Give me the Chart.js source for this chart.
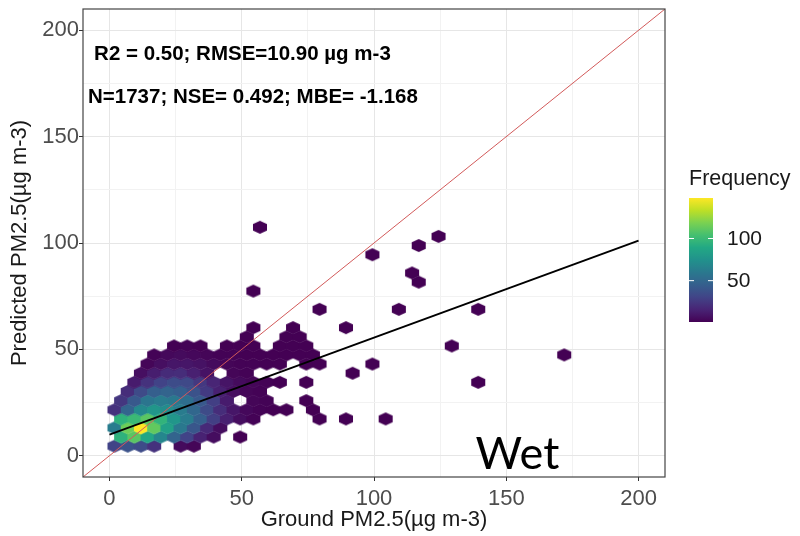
<!DOCTYPE html>
<html>
<head>
<meta charset="utf-8">
<script src="https://cdn.jsdelivr.net/npm/chart.js@4.4.1/dist/chart.umd.min.js"></script>
<style>
  html, body { margin: 0; padding: 0; background: #fff; }
  #wrap { width: 800px; height: 536px; }
</style>
</head>
<body>
<div id="wrap"><canvas id="hexChart" width="800" height="536"></canvas></div>
<script>
// hexbin cells, one entry per row of hexagons: row centre y, cell centre x's, counts
var rowY = [4.5, 8.8, 13.1, 17.3, 21.6, 25.9, 30.2, 34.5, 38.8, 43.1, 47.4, 51.6,
            55.9, 60.2, 68.8, 77.4, 81.6, 85.9, 94.5, 98.8, 103.1, 107.4];
var rowX = [
  [1.9, 6.9, 11.9, 16.9, 26.9, 31.9],
  [4.4, 9.4, 14.4, 19.4, 24.4, 29.4, 34.4, 39.4, 49.4],
  [1.9, 6.9, 11.9, 16.9, 21.9, 26.9, 31.9, 36.9, 41.9],
  [4.4, 9.4, 14.4, 19.4, 24.4, 29.4, 34.4, 39.4, 44.4, 49.4, 54.4, 79.4, 89.4, 104.4],
  [1.9, 6.9, 11.9, 16.9, 21.9, 26.9, 31.9, 36.9, 41.9, 46.9, 51.9, 56.9, 61.9, 66.9, 76.9],
  [4.4, 9.4, 14.4, 19.4, 24.4, 29.4, 34.4, 39.4, 44.4, 54.4, 59.4, 74.4],
  [6.9, 11.9, 16.9, 21.9, 26.9, 31.9, 36.9, 41.9, 46.9, 51.9, 56.9],
  [9.4, 14.4, 19.4, 24.4, 29.4, 34.4, 39.4, 44.4, 49.4, 54.4, 59.4, 64.4, 74.4, 139.4],
  [11.9, 16.9, 21.9, 26.9, 31.9, 36.9, 46.9, 51.9, 91.9],
  [14.4, 19.4, 24.4, 29.4, 34.4, 39.4, 44.4, 49.4, 54.4, 59.4, 64.4, 74.4, 79.4, 99.4],
  [16.9, 21.9, 26.9, 31.9, 36.9, 41.9, 46.9, 51.9, 56.9, 61.9, 66.9, 71.9, 76.9, 171.9],
  [24.4, 29.4, 34.4, 44.4, 49.4, 54.4, 64.4, 69.4, 74.4, 129.4],
  [51.9, 66.9, 71.9],
  [54.4, 69.4, 89.4],
  [79.4, 109.4, 139.4],
  [54.4],
  [116.9],
  [114.4],
  [99.4],
  [116.9],
  [124.4],
  [56.9]
];
var rowN = [
  [30, 38, 34, 22, 5, 3],
  [95, 110, 88, 68, 48, 30, 15, 6, 1],
  [62, 115, 148, 112, 84, 60, 40, 18, 6],
  [95, 100, 110, 96, 78, 62, 45, 28, 14, 6, 2, 1, 1, 1],
  [22, 48, 70, 78, 72, 62, 50, 34, 20, 10, 4, 2, 1, 1, 1],
  [24, 42, 58, 62, 60, 54, 42, 28, 12, 3, 2, 1],
  [20, 34, 45, 48, 45, 38, 26, 14, 7, 3, 2],
  [12, 22, 30, 35, 33, 25, 16, 9, 5, 3, 2, 1, 1, 1],
  [7, 13, 19, 20, 14, 8, 3, 2, 1],
  [3, 7, 10, 10, 8, 5, 3, 2, 2, 1, 1, 1, 1, 1],
  [2, 4, 5, 4, 3, 2, 2, 1, 1, 1, 1, 1, 1, 1],
  [1, 2, 1, 1, 1, 1, 1, 1, 1, 1],
  [1, 1, 1],
  [1, 1, 1],
  [1, 1, 1],
  [1],
  [1],
  [1],
  [1],
  [1],
  [1],
  [1]
];

// 1:1 line and fitted regression line
var oneToOne = [-10, 210];
var fitX = [0, 200];
var fitY = [9.9, 101.1];

var axisTicks = [0, 50, 100, 150, 200];
var legendTicks = [50, 100];
var statsText = ['R2 = 0.50; RMSE=10.90 µg m-3', 'N=1737; NSE= 0.492; MBE= -1.168'];
var panelLabel = 'Wet';

var binW = 5, binH = 4.287;
var nMin = 1, nMax = 148;

var viridis = ['#440154', '#482475', '#414487', '#355f8d', '#2a788e', '#21918c',
               '#22a884', '#44bf70', '#7ad151', '#bddf26', '#fde725'];

function hexToRgb(h) {
  return [parseInt(h.substr(1, 2), 16), parseInt(h.substr(3, 2), 16), parseInt(h.substr(5, 2), 16)];
}
function viridisAt(t) {
  t = Math.max(0, Math.min(1, t));
  var p = t * (viridis.length - 1);
  var i = Math.min(Math.floor(p), viridis.length - 2);
  var f = p - i;
  var a = hexToRgb(viridis[i]), b = hexToRgb(viridis[i + 1]);
  return 'rgb(' + Math.round(a[0] + (b[0] - a[0]) * f) + ',' +
    Math.round(a[1] + (b[1] - a[1]) * f) + ',' + Math.round(a[2] + (b[2] - a[2]) * f) + ')';
}
function fillFor(n) {
  return viridisAt((n - nMin) / (nMax - nMin));
}

var hexPoints = [];
rowY.forEach(function (y, r) {
  rowX[r].forEach(function (x, i) {
    hexPoints.push({ x: x, y: y, n: rowN[r][i] });
  });
});

// pointy-top hexagon image, sized from the axis scales
var hexCache = {};
function hexImage(chart, color) {
  var xs = chart.scales.x, ys = chart.scales.y;
  var w = Math.abs(xs.getPixelForValue(binW) - xs.getPixelForValue(0));
  var h = Math.abs(ys.getPixelForValue(0) - ys.getPixelForValue(binH)) * 4 / 3;
  var key = color + '|' + w.toFixed(2) + '|' + h.toFixed(2);
  if (hexCache[key]) return hexCache[key];
  var c = document.createElement('canvas');
  c.width = Math.ceil(w) + 2;
  c.height = Math.ceil(h) + 2;
  var g = c.getContext('2d');
  var cx = c.width / 2, cy = c.height / 2, hw = w / 2 + 0.4, hh = h / 2 + 0.4;
  g.beginPath();
  g.moveTo(cx, cy - hh);
  g.lineTo(cx + hw, cy - hh / 2);
  g.lineTo(cx + hw, cy + hh / 2);
  g.lineTo(cx, cy + hh);
  g.lineTo(cx - hw, cy + hh / 2);
  g.lineTo(cx - hw, cy - hh / 2);
  g.closePath();
  g.fillStyle = color;
  g.fill();
  hexCache[key] = c;
  return c;
}

function isMajor(v) { return axisTicks.indexOf(v) !== -1; }

var FONT = "'Liberation Sans', Arial, sans-serif";

var extras = {
  id: 'extras',
  afterDatasetsDraw: function (chart) {
    var ctx = chart.ctx, a = chart.chartArea;
    var xs = chart.scales.x, ys = chart.scales.y;
    ctx.save();
    ctx.strokeStyle = '#444';
    ctx.lineWidth = 1.2;
    ctx.strokeRect(a.left, a.top, a.right - a.left, a.bottom - a.top);

    ctx.fillStyle = '#000';
    ctx.font = 'bold 20.5px ' + FONT;
    ctx.textBaseline = 'middle';
    ctx.textAlign = 'left';
    ctx.fillText(statsText[0], xs.getPixelForValue(-5.8), ys.getPixelForValue(188.5));
    ctx.fillText(statsText[1], xs.getPixelForValue(-8.1), ys.getPixelForValue(168.4));

    ctx.font = "45px Lato, 'Open Sans', sans-serif";
    ctx.textAlign = 'center';
    ctx.textBaseline = 'alphabetic';
    ctx.fillText(panelLabel, xs.getPixelForValue(154.2), ys.getPixelForValue(-6.4));
    ctx.restore();
  },
  afterDraw: function (chart) {
    var ctx = chart.ctx;
    var left = 689, width = 24, top = 198, bottom = 322;
    ctx.save();
    var grad = ctx.createLinearGradient(0, bottom, 0, top);
    for (var s = 0; s <= 20; s++) grad.addColorStop(s / 20, viridisAt(s / 20));
    ctx.fillStyle = grad;
    ctx.fillRect(left, top, width, bottom - top);

    ctx.fillStyle = '#1a1a1a';
    ctx.font = '21.5px ' + FONT;
    ctx.textAlign = 'left';
    ctx.textBaseline = 'alphabetic';
    ctx.fillText('Frequency', 689, 185);

    ctx.textBaseline = 'middle';
    ctx.font = '21px ' + FONT;
    legendTicks.forEach(function (v) {
      var y = bottom - (v - nMin) / (nMax - nMin) * (bottom - top);
      ctx.strokeStyle = '#fff';
      ctx.lineWidth = 1;
      ctx.beginPath();
      ctx.moveTo(left, y); ctx.lineTo(left + 5, y);
      ctx.moveTo(left + width - 5, y); ctx.lineTo(left + width, y);
      ctx.stroke();
      ctx.fillStyle = '#1a1a1a';
      ctx.fillText(String(v), 727, y + 1);
    });
    ctx.restore();
  }
};

var ctxHex = document.getElementById('hexChart').getContext('2d');
var hexChart = new Chart(ctxHex, {
  data: {
    datasets: [{
      type: 'scatter',
      label: 'count',
      order: 3,
      data: hexPoints,
      pointRadius: 6,
      pointStyle: function (c) {
        if (!c.raw) return 'circle';
        return hexImage(c.chart, fillFor(c.raw.n));
      }
    }, {
      type: 'line',
      label: '1:1',
      order: 2,
      data: oneToOne.map(function (v) { return { x: v, y: v }; }),
      borderColor: '#d25a5a',
      borderWidth: 1,
      pointRadius: 0
    }, {
      type: 'line',
      label: 'fit',
      order: 1,
      data: fitX.map(function (v, i) { return { x: v, y: fitY[i] }; }),
      borderColor: '#000',
      borderWidth: 2,
      pointRadius: 0
    }]
  },
  options: {
    responsive: false,
    animation: false,
    events: [],
    layout: { padding: { left: 0, top: 9, right: 135, bottom: 0 } },
    plugins: { legend: { display: false }, tooltip: { enabled: false } },
    scales: {
      x: {
        type: 'linear',
        min: -10,
        max: 210,
        afterFit: function (s) { s.height = 59; s.paddingLeft = 0; s.paddingRight = 0; },
        border: { display: false },
        grid: {
          color: function (c) { return isMajor(c.tick.value) ? '#e6e6e6' : '#f2f2f2'; },
          tickColor: function (c) { return isMajor(c.tick.value) ? '#333' : 'rgba(0,0,0,0)'; },
          tickLength: 4
        },
        ticks: {
          stepSize: 25,
          includeBounds: false,
          autoSkip: false,
          maxRotation: 0,
          padding: 5,
          color: '#4d4d4d',
          font: { family: FONT, size: 22 },
          callback: function (v) { return isMajor(v) ? String(v) : ''; }
        },
        title: {
          display: true,
          text: 'Ground PM2.5(µg m-3)',
          color: '#1a1a1a',
          font: { family: FONT, size: 22 },
          padding: { top: 0, bottom: 3 }
        }
      },
      y: {
        type: 'linear',
        min: -10,
        max: 210,
        afterFit: function (s) { s.width = 83; s.paddingTop = 0; s.paddingBottom = 0; },
        border: { display: false },
        grid: {
          color: function (c) { return isMajor(c.tick.value) ? '#e6e6e6' : '#f2f2f2'; },
          tickColor: function (c) { return isMajor(c.tick.value) ? '#333' : 'rgba(0,0,0,0)'; },
          tickLength: 4
        },
        ticks: {
          stepSize: 25,
          includeBounds: false,
          autoSkip: false,
          padding: 0,
          color: '#4d4d4d',
          font: { family: FONT, size: 22 },
          callback: function (v) { return isMajor(v) ? String(v) : ''; }
        },
        title: {
          display: true,
          text: 'Predicted PM2.5(µg m-3)',
          color: '#1a1a1a',
          font: { family: FONT, size: 22 },
          padding: { top: 7, bottom: 0 }
        }
      }
    }
  },
  plugins: [extras]
});
</script>
</body>
</html>
